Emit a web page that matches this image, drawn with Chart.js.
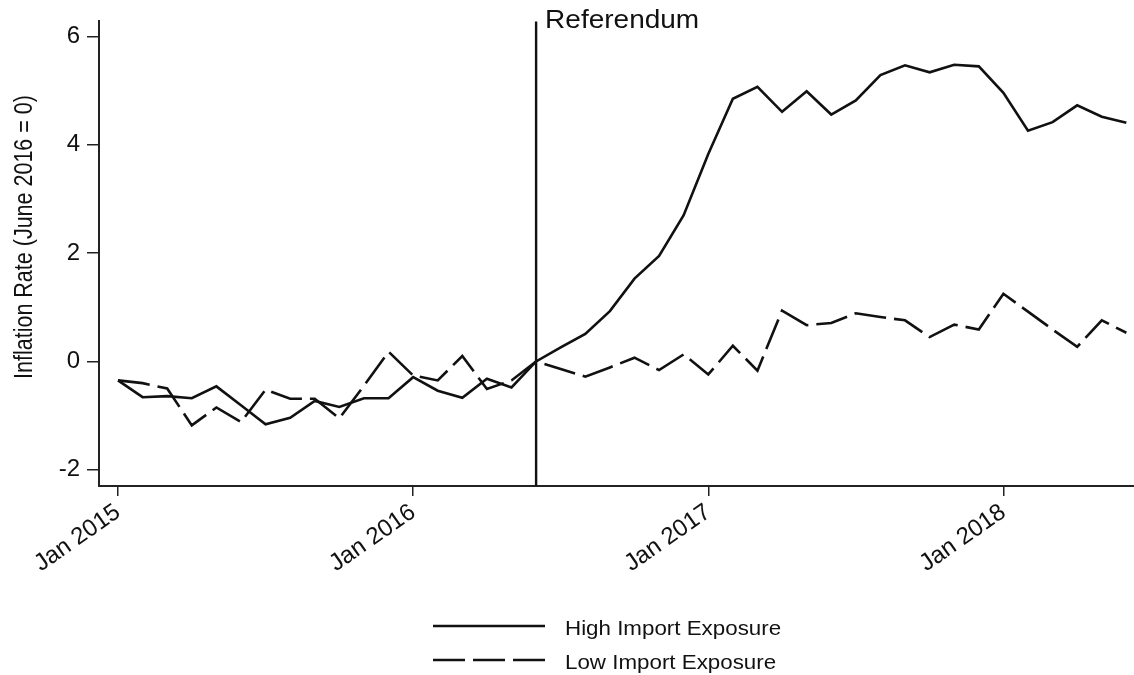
<!DOCTYPE html>
<html>
<head>
<meta charset="utf-8">
<script src="https://cdn.jsdelivr.net/npm/chart.js@4.4.1/dist/chart.umd.min.js"></script>
<style>
  html, body { margin: 0; padding: 0; background: #ffffff; }
  #wrap { width: 1134px; height: 675px; position: relative; }
</style>
</head>
<body>
<div id="wrap"><canvas id="c"></canvas></div>
<script>
// ---- data ----
const months = [
  'Jan 2015','Feb 2015','Mar 2015','Apr 2015','May 2015','Jun 2015','Jul 2015','Aug 2015','Sep 2015','Oct 2015','Nov 2015','Dec 2015',
  'Jan 2016','Feb 2016','Mar 2016','Apr 2016','May 2016','Jun 2016','Jul 2016','Aug 2016','Sep 2016','Oct 2016','Nov 2016','Dec 2016',
  'Jan 2017','Feb 2017','Mar 2017','Apr 2017','May 2017','Jun 2017','Jul 2017','Aug 2017','Sep 2017','Oct 2017','Nov 2017','Dec 2017',
  'Jan 2018','Feb 2018','Mar 2018','Apr 2018','May 2018','Jun 2018'
];
const highImport = [
  -0.35,-0.66,-0.64,-0.68,-0.46,-0.81,-1.16,-1.04,-0.73,-0.84,-0.68,-0.68,
  -0.29,-0.54,-0.67,-0.32,-0.48,0.00,0.26,0.51,0.93,1.53,1.95,2.70,
  3.83,4.85,5.07,4.61,4.99,4.56,4.82,5.29,5.47,5.34,5.48,5.45,
  4.96,4.26,4.42,4.73,4.52,4.41
];
const lowImport = [
  -0.35,-0.40,-0.50,-1.18,-0.85,-1.12,-0.52,-0.69,-0.69,-1.05,-0.45,0.18,
  -0.26,-0.35,0.10,-0.51,-0.35,0.00,-0.14,-0.28,-0.11,0.07,-0.16,0.13,
  -0.24,0.29,-0.17,0.94,0.67,0.71,0.89,0.82,0.76,0.45,0.68,0.59,
  1.25,0.92,0.59,0.27,0.76,0.53
];
const yTicks = [-2, 0, 2, 4, 6];
const seriesNames = ['High Import Exposure', 'Low Import Exposure'];
const eventLabel = 'Referendum';
const eventMonth = 'Jun 2016';
const yTitle = 'Inflation Rate (June 2016 = 0)';

// ---- build ----
const toPoints = arr => arr.map((v, i) => ({ x: i, y: v }));
const xTickIdx = months.map((m, i) => m.startsWith('Jan') ? i : -1).filter(i => i >= 0);
const eventIdx = months.indexOf(eventMonth);
const FONT = '"Liberation Sans", Arial, Helvetica, sans-serif';
const INK = '#111';

const overlay = {
  id: 'overlay',
  afterDatasetsDraw(chart) {
    const { ctx, chartArea, scales } = chart;
    ctx.save();
    const ex = scales.x.getPixelForValue(eventIdx);
    ctx.strokeStyle = INK;
    ctx.lineWidth = 2.4;
    ctx.setLineDash([]);
    ctx.beginPath();
    ctx.moveTo(ex, chartArea.top);
    ctx.lineTo(ex, chartArea.bottom);
    ctx.stroke();
    ctx.fillStyle = INK;
    ctx.font = '25px ' + FONT;
    ctx.textAlign = 'left';
    ctx.textBaseline = 'alphabetic';
    ctx.translate(ex + 9, 28);
    ctx.scale(1.12, 1);
    ctx.fillText(eventLabel, 0, 0);
    ctx.restore();
  },
  afterDraw(chart) {
    const { ctx } = chart;
    ctx.save();
    ctx.fillStyle = INK;
    ctx.font = '21.5px ' + FONT;
    ctx.translate(25, 237);
    ctx.rotate(-Math.PI / 2);
    ctx.scale(1, 1.2);
    ctx.textAlign = 'center';
    ctx.textBaseline = 'middle';
    ctx.fillText(yTitle, 0, 0);
    ctx.restore();
    ctx.save();
    const rows = [626, 660];
    chart.data.datasets.forEach((ds, i) => {
      const y = rows[i];
      ctx.strokeStyle = ds.borderColor;
      ctx.lineWidth = 2.4;
      ctx.setLineDash(ds.borderDash || []);
      ctx.beginPath();
      ctx.moveTo(433, y);
      ctx.lineTo(545, y);
      ctx.stroke();
      ctx.setLineDash([]);
      ctx.save();
      ctx.fillStyle = INK;
      ctx.font = '20.5px ' + FONT;
      ctx.textAlign = 'left';
      ctx.textBaseline = 'middle';
      ctx.translate(565, y + 3);
      ctx.scale(1.09, 1);
      ctx.fillText(ds.label, 0, 0);
      ctx.restore();
    });
    ctx.restore();
  }
};

new Chart(document.getElementById('c'), {
  type: 'line',
  data: {
    datasets: [
      { label: seriesNames[0], data: toPoints(highImport), borderColor: INK, borderWidth: 2.6,
        pointRadius: 0, tension: 0, fill: false },
      { label: seriesNames[1], data: toPoints(lowImport), borderColor: INK, borderWidth: 2.6,
        borderDash: [32, 8], pointRadius: 0, tension: 0, fill: false }
    ]
  },
  options: {
    responsive: true,
    maintainAspectRatio: false,
    animation: false,
    events: [],
    layout: { padding: { top: 18, right: 0, left: 0, bottom: 0 } },
    plugins: { legend: { display: false }, tooltip: { enabled: false } },
    scales: {
      x: {
        type: 'linear',
        min: -0.7725,
        max: 41.31,
        afterFit: s => { s.height = 189; },
        afterBuildTicks: s => { s.ticks = xTickIdx.map(v => ({ value: v })); },
        ticks: {
          autoSkip: false,
          minRotation: 35,
          maxRotation: 35,
          padding: 2,
          color: INK,
          font: { family: FONT, size: 24 },
          callback: v => months[v]
        },
        grid: { drawOnChartArea: false, drawTicks: true, tickLength: 10, color: '#222', lineWidth: 1.5 },
        border: { display: true, color: '#222', width: 2 }
      },
      y: {
        type: 'linear',
        min: -2.3,
        max: 6.28,
        afterFit: s => { s.width = 99; },
        afterBuildTicks: s => { s.ticks = yTicks.map(v => ({ value: v })); },
        ticks: {
          padding: 7,
          color: INK,
          font: { family: FONT, size: 24 },
          callback: v => String(v)
        },
        grid: { drawOnChartArea: false, drawTicks: true, tickLength: 12, color: '#222', lineWidth: 1.5 },
        border: { display: true, color: '#222', width: 2 }
      }
    }
  },
  plugins: [overlay]
});
</script>
</body>
</html>
